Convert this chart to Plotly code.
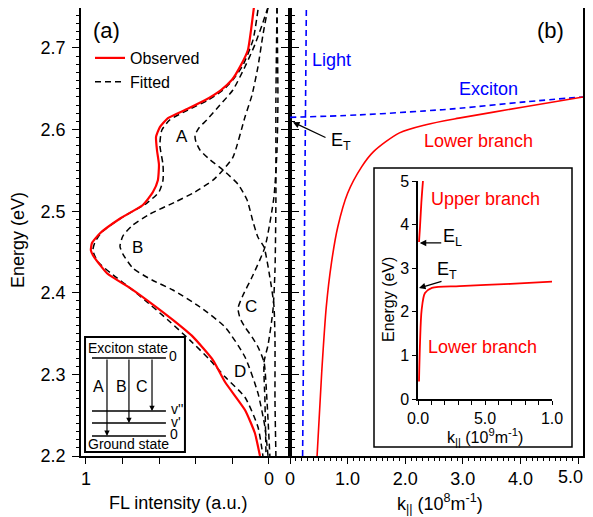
import plotly.graph_objects as go

# the page body adds an 8px margin, so the figure is sized to fit the window
W, H = 585, 509
OFF = 8

# ---------------- Panel (a): FL spectrum ----------------
obs_E = [2.75, 2.722, 2.6975, 2.679, 2.661, 2.6485, 2.636, 2.624, 2.614, 2.603, 2.591, 2.575, 2.557,
         2.538, 2.5235, 2.5076, 2.4917, 2.473, 2.461, 2.452, 2.444, 2.424, 2.406, 2.391, 2.3667,
         2.346, 2.3176, 2.2907, 2.2564, 2.2282, 2.2]
obs_I = [0.082, 0.098, 0.115, 0.153, 0.202, 0.262, 0.350, 0.459, 0.552, 0.596, 0.617, 0.612, 0.601,
         0.607, 0.634, 0.689, 0.809, 0.923, 0.967, 0.973, 0.956, 0.885, 0.760, 0.667, 0.525,
         0.415, 0.306, 0.240, 0.131, 0.077, 0.049]

fit_E = [2.7466, 2.71, 2.679, 2.661, 2.6485, 2.636, 2.624, 2.612, 2.5995, 2.581, 2.557, 2.538, 2.5235,
         2.510, 2.493, 2.4745, 2.462, 2.452, 2.4377, 2.422, 2.403, 2.391, 2.3667, 2.342, 2.3176,
         2.297, 2.272, 2.2355, 2.2]
fit_I = [0.060, 0.087, 0.142, 0.197, 0.251, 0.333, 0.443, 0.541, 0.585, 0.596, 0.579, 0.579, 0.601,
         0.667, 0.798, 0.913, 0.951, 0.962, 0.934, 0.852, 0.743, 0.678, 0.552, 0.432, 0.322,
         0.240, 0.131, 0.060, 0.033]

compA_E = [2.75, 2.728, 2.704, 2.677, 2.6485, 2.630, 2.612, 2.602, 2.593, 2.585, 2.575, 2.563, 2.5505,
           2.533, 2.514, 2.487, 2.468, 2.456, 2.419, 2.385, 2.342, 2.2686, 2.2]
compA_I = [0.005, 0.038, 0.077, 0.131, 0.197, 0.268, 0.339, 0.383, 0.404, 0.399, 0.377, 0.322, 0.251,
           0.169, 0.120, 0.087, 0.060, 0.027, -0.005, -0.027, -0.033, -0.033, -0.038]

compB_E = [2.75, 2.716, 2.677, 2.642, 2.6155, 2.566, 2.5505, 2.538, 2.5235, 2.511, 2.4966, 2.482,
           2.4696, 2.457, 2.4475, 2.430, 2.4157, 2.4034, 2.3826, 2.358, 2.3213, 2.277, 2.2355, 2.2]
compB_I = [0.005, 0.033, 0.060, 0.093, 0.131, 0.197, 0.251, 0.306, 0.404, 0.514, 0.650, 0.749,
           0.798, 0.814, 0.798, 0.743, 0.639, 0.525, 0.377, 0.240, 0.131, 0.060, 0.022, 0.005]

compC_E = [2.75, 2.636, 2.575, 2.517, 2.456, 2.419, 2.397, 2.381, 2.369, 2.358, 2.346, 2.3336,
           2.315, 2.2686, 2.2]
compC_I = [-0.044, -0.049, -0.044, -0.027, 0.022, 0.093, 0.142, 0.169, 0.158, 0.131, 0.093, 0.060,
           0.027, 0.011, -0.005]

compD_E = [2.75, 2.636, 2.514, 2.428, 2.379, 2.336, 2.315, 2.2686, 2.2]
compD_I = [-0.044, -0.038, -0.038, -0.033, -0.022, 0.005, 0.027, 0.022, 0.016]

fl_tickvals = [1.0, 0.8, 0.6, 0.4, 0.2, 0.0]
fl_ticktext = ["1", "", "", "", "", "0"]

# ---------------- Panel (b): dispersion ----------------
light_k = [0.219, 0.284]
light_E = [2.2, 2.75]
exc_k = [0.0, 1.2, 2.36, 2.93, 4.08, 5.085]
exc_E = [2.615, 2.618, 2.623, 2.626, 2.634, 2.640]
low_k = [0.47, 0.55, 0.63, 0.72, 0.83, 1.0, 1.24, 1.45, 1.9, 2.36, 2.93, 4.08, 5.085]
low_E = [2.2, 2.302, 2.383, 2.437, 2.481, 2.522, 2.554, 2.573, 2.596, 2.606, 2.614, 2.628, 2.640]
k_tickvals = [0, 1, 2, 3, 4, 5]
# last label is drawn separately (kept inside the visible window)
k_ticktext = ["0", "1.0", "2.0", "3.0", "4.0", ""]
k_last_label = "5.0"

# ---------------- Inset of (b) ----------------
ins_up_k = [0.0075, 0.015, 0.025, 0.037]
ins_up_E = [3.6, 3.95, 4.5, 5.0]
ins_low_k = [0.0075, 0.015, 0.027, 0.052, 0.104, 0.31, 0.69, 1.0]
ins_low_E = [0.40, 1.28, 2.04, 2.43, 2.55, 2.59, 2.64, 2.69]
ins_tickvals = [0, 0.5, 1.0]
ins_ticktext = ["0.0", "5.0", "1.0"]

FONT = "Liberation Sans, Arial, Helvetica, sans-serif"
RED = "#ff0000"
BLUE = "#0000ff"
DASH = "6px,4px"


def fx(px):
    return (px - OFF) / W


def fy(py):
    return 1 - (py - OFF) / H


fig = go.Figure()

# panel a components
for E, I in [(compD_E, compD_I), (compC_E, compC_I), (compB_E, compB_I), (compA_E, compA_I)]:
    fig.add_trace(go.Scatter(x=I, y=E, mode="lines", xaxis="x", yaxis="y", showlegend=False,
                             line=dict(color="black", width=1.5, dash=DASH, shape="spline", smoothing=0.6)))
fig.add_trace(go.Scatter(x=fit_I, y=fit_E, mode="lines", name="Fitted", xaxis="x", yaxis="y",
                         line=dict(color="black", width=1.5, dash=DASH, shape="spline", smoothing=0.6)))
fig.add_trace(go.Scatter(x=obs_I, y=obs_E, mode="lines", name="Observed", xaxis="x", yaxis="y",
                         line=dict(color=RED, width=2.2, shape="spline", smoothing=0.5)))

# panel b
fig.add_trace(go.Scatter(x=light_k, y=light_E, mode="lines", xaxis="x2", yaxis="y2", showlegend=False,
                         line=dict(color=BLUE, width=1.6, dash=DASH)))
fig.add_trace(go.Scatter(x=exc_k, y=exc_E, mode="lines", xaxis="x2", yaxis="y2", showlegend=False,
                         line=dict(color=BLUE, width=1.6, dash=DASH, shape="spline")))
fig.add_trace(go.Scatter(x=low_k, y=low_E, mode="lines", xaxis="x2", yaxis="y2", showlegend=False,
                         line=dict(color=RED, width=1.6, shape="spline", smoothing=0.8)))
# inset
fig.add_trace(go.Scatter(x=ins_up_k, y=ins_up_E, mode="lines", xaxis="x3", yaxis="y3", showlegend=False,
                         line=dict(color=RED, width=1.8, shape="spline")))
fig.add_trace(go.Scatter(x=ins_low_k, y=ins_low_E, mode="lines", xaxis="x3", yaxis="y3", showlegend=False,
                         line=dict(color=RED, width=1.8, shape="spline", smoothing=0.8)))

ydom = [fy(456), fy(8)]
YR = [2.2, 2.749]
common = dict(showgrid=False, zeroline=False, showline=True, linecolor="black", linewidth=1.5,
              tickcolor="black", automargin=False, ticklabeloverflow="allow",
              tickfont=dict(size=18, color="black", family=FONT))

fig.update_layout(
    width=W, height=H, margin=dict(l=0, r=0, t=0, b=0, pad=0, autoexpand=False), autosize=False,
    paper_bgcolor="white", plot_bgcolor="white",
    font=dict(family=FONT, color="black", size=18),
    xaxis=dict(domain=[fx(81), fx(290)], range=[1.027, -0.115], anchor="y",
               tickvals=fl_tickvals, ticktext=fl_ticktext, ticks="outside", ticklen=6, mirror=True,
               ticklabelstandoff=0, **common),
    yaxis=dict(domain=ydom, range=YR, anchor="x", dtick=0.1, tick0=2.2, tickformat=".1f",
               ticks="outside", ticklen=7, mirror="ticks", ticklabelstandoff=3,
               minor=dict(dtick=0.01, ticklen=3.5, ticks="outside", tickcolor="black"), **common),
    xaxis2=dict(domain=[fx(290), fx(583)], range=[0, 5.085], anchor="y2",
                tickvals=k_tickvals, ticktext=k_ticktext, ticks="outside", ticklen=6, mirror=True,
                ticklabelstandoff=0,
                minor=dict(dtick=0.1, ticklen=3.5, ticks="outside", tickcolor="black"), **common),
    yaxis2=dict(domain=ydom, range=YR, anchor="x2", dtick=0.1, tick0=2.2,
                showticklabels=False, ticks="outside", ticklen=7, mirror="ticks",
                minor=dict(dtick=0.01, ticklen=3.5, ticks="outside", tickcolor="black"), **common),
    xaxis3=dict(domain=[fx(418), fx(552)], range=[0, 1.0], anchor="y3",
                tickvals=ins_tickvals, ticktext=ins_ticktext, ticks="outside", ticklen=4,
                ticklabelstandoff=0,
                minor=dict(dtick=0.1, ticklen=4, ticks="outside", tickcolor="black"),
                showgrid=False, zeroline=False, showline=True, linecolor="black", linewidth=1.5,
                tickcolor="black", automargin=False, tickfont=dict(size=16, color="black", family=FONT)),
    yaxis3=dict(domain=[fy(399), fy(181)], range=[0, 5], anchor="x3", dtick=1, ticks="outside",
                ticklen=4, showgrid=False, zeroline=False, showline=True, linecolor="black",
                linewidth=1.5, tickcolor="black", automargin=False,
                tickfont=dict(size=16, color="black", family=FONT)),
    legend=dict(x=fx(90), y=fy(41), xanchor="left", yanchor="top", bgcolor="rgba(0,0,0,0)",
                font=dict(size=16, family=FONT), itemwidth=30, tracegroupgap=0, traceorder="reversed"),
    showlegend=True,
)

ann = []


def txt(text, x, y, xref, yref, size=18, color="black", xanchor="center", **kw):
    ann.append(dict(text=text, x=x, y=y, xref=xref, yref=yref, showarrow=False,
                    xanchor=xanchor, yanchor="middle",
                    font=dict(size=size, color=color, family=FONT), **kw))


# axis titles (paper coords)
txt("Energy (eV)", fx(18), fy(240), "paper", "paper", textangle=-90)
txt("FL intensity (a.u.)", fx(178), fy(503), "paper", "paper")
txt("k<sub>||</sub> (10<sup>8</sup>m<sup>-1</sup>)", fx(440), fy(503), "paper", "paper")
txt("Energy (eV)", fx(388), fy(300), "paper", "paper", size=16, textangle=-90)
txt("k<sub>||</sub> (10<sup>9</sup>m<sup>-1</sup>)", fx(485), fy(437), "paper", "paper", size=16)
txt(k_last_label, fx(585), fy(477), "paper", "paper", xanchor="right")

# panel a labels
txt("(a)", 0.885, 2.721, "x", "y", size=22)
txt("A", 0.475, 2.592, "x", "y", size=17)
txt("B", 0.721, 2.456, "x", "y", size=17)
txt("C", 0.098, 2.383, "x", "y", size=17)
txt("D", 0.158, 2.303, "x", "y", size=17)

# energy-level diagram (panel a)
txt("Exciton state", 0.770, 2.332, "x", "y", size=14)
txt("Ground state", 0.770, 2.2147, "x", "y", size=14)
txt("0", 0.522, 2.3225, "x", "y", size=14)
txt("v''", 0.505, 2.2576, "x", "y", size=14)
txt("v'", 0.508, 2.2417, "x", "y", size=14)
txt("0", 0.519, 2.2275, "x", "y", size=14)
txt("A", 0.929, 2.2846, "x", "y", size=16)
txt("B", 0.803, 2.2846, "x", "y", size=16)
txt("C", 0.694, 2.2846, "x", "y", size=16)
for xi, ye in [(0.885, 2.2245), (0.765, 2.2404), (0.639, 2.255)]:
    ann.append(dict(text="", x=xi, y=ye, ax=xi, ay=2.320, xref="x", yref="y", axref="x", ayref="y",
                    showarrow=True, arrowhead=2, arrowsize=0.9, arrowwidth=1.2, arrowcolor="black"))

# panel b labels
txt("(b)", 4.517, 2.721, "x2", "y2", size=22)
txt("Light", 0.724, 2.685, "x2", "y2", color=BLUE)
txt("Exciton", 3.448, 2.650, "x2", "y2", color=BLUE)
txt("Lower branch", 3.276, 2.586, "x2", "y2", color=RED)
txt("E<sub>T</sub>", 0.88, 2.585, "x2", "y2")
ann.append(dict(text="", x=0.052, y=2.609, ax=34, ay=16, xref="x2", yref="y2", showarrow=True,
                arrowhead=2, arrowsize=1, arrowwidth=1.3, arrowcolor="black"))

# inset labels
txt("Upper branch", 0.50, 4.587, "x3", "y3", color=RED)
txt("Lower branch", 0.485, 1.19, "x3", "y3", color=RED)
txt("E<sub>L</sub>", 0.26, 3.70, "x3", "y3")
txt("E<sub>T</sub>", 0.22, 2.94, "x3", "y3")
ann.append(dict(text="", x=0.013, y=3.58, ax=23, ay=0, xref="x3", yref="y3", showarrow=True,
                arrowhead=2, arrowsize=1, arrowwidth=1.3, arrowcolor="black"))
ann.append(dict(text="", x=0.0075, y=2.546, ax=24, ay=-7, xref="x3", yref="y3", showarrow=True,
                arrowhead=2, arrowsize=1, arrowwidth=1.3, arrowcolor="black"))

fig.update_layout(annotations=ann)

shapes = []
# diagram box and levels
shapes.append(dict(type="rect", xref="x", yref="y", x0=1.005, x1=0.459, y0=2.2049, y1=2.3458,
                   line=dict(color="black", width=2), fillcolor="white", layer="below"))
for ylev in [2.320, 2.255, 2.2404, 2.2245]:
    shapes.append(dict(type="line", xref="x", yref="y", x0=0.967, x1=0.563, y0=ylev, y1=ylev,
                       line=dict(color="black", width=1.5)))
# inset box
shapes.append(dict(type="rect", xref="paper", yref="paper", x0=fx(374), x1=fx(572), y0=fy(447), y1=fy(168),
                   line=dict(color="black", width=1.5)))
fig.update_layout(shapes=shapes)

fig.write_html("out.html")
